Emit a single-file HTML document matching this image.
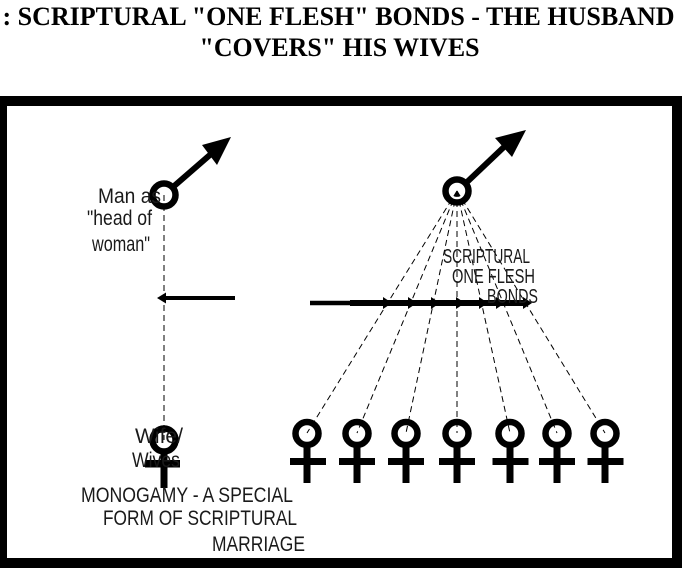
<!DOCTYPE html>
<html>
<head>
<meta charset="utf-8">
<style>
  html,body{margin:0;padding:0;background:#fff;}
  body{width:682px;height:568px;overflow:hidden;}
  svg{display:block;}
  .t{font-family:"Liberation Serif","Times New Roman",serif;font-weight:bold;font-size:26px;fill:#000;}
  .s{font-family:"Liberation Sans",Arial,sans-serif;fill:#1a1a1a;}
</style>
</head>
<body>
<svg width="682" height="568" viewBox="0 0 682 568" xmlns="http://www.w3.org/2000/svg">
  <rect x="0" y="0" width="682" height="568" fill="#fff"/>
  <!-- Title -->
  <text class="t" x="338.5" y="25" text-anchor="middle" textLength="672" lengthAdjust="spacingAndGlyphs">: SCRIPTURAL "ONE FLESH" BONDS - THE HUSBAND</text>
  <text class="t" x="339.5" y="56" text-anchor="middle" textLength="280" lengthAdjust="spacingAndGlyphs">"COVERS" HIS WIVES</text>

  <!-- Frame -->
  <rect x="0" y="96" width="682" height="472" fill="#000"/>
  <rect x="7" y="106" width="665" height="452" fill="#fff"/>

  <!-- Left dashed vertical -->
  <line x1="164" y1="195" x2="164" y2="440" stroke="#000" stroke-width="1" stroke-dasharray="6 4"/>

  <!-- Right dashed lines -->
  <g stroke="#000" stroke-width="1" stroke-dasharray="6 4" fill="none">
    <line x1="457" y1="191" x2="307" y2="433"/>
    <line x1="457" y1="191" x2="357" y2="433"/>
    <line x1="457" y1="191" x2="406" y2="433"/>
    <line x1="457" y1="191" x2="457" y2="433"/>
    <line x1="457" y1="191" x2="510" y2="433"/>
    <line x1="457" y1="191" x2="557" y2="433"/>
    <line x1="457" y1="191" x2="605" y2="433"/>
  </g>

  <!-- Left man -->
  <circle cx="164" cy="195" r="11.5" fill="none" stroke="#000" stroke-width="6.5"/>
  <line x1="173" y1="187" x2="211" y2="154" stroke="#000" stroke-width="6"/>
  <polygon points="231,137 202,145 217,165" fill="#000"/>

  <!-- Right man -->
  <circle cx="457" cy="191" r="11.5" fill="none" stroke="#000" stroke-width="6.5"/>
  <line x1="466" y1="183" x2="505" y2="146" stroke="#000" stroke-width="6"/>
  <polygon points="526,130 495,138 512,157" fill="#000"/>

  <!-- Left horizontal arrow -->
  <line x1="235" y1="298" x2="163" y2="298" stroke="#000" stroke-width="4"/>
  <polygon points="157,298 166,292.5 166,303.5" fill="#000"/>

  <!-- Right horizontal arrow line with heads -->
  <line x1="310" y1="303" x2="352" y2="303" stroke="#000" stroke-width="4.5"/>
  <line x1="350" y1="303" x2="526" y2="303" stroke="#000" stroke-width="6"/>
  <g fill="#000">
    <polygon points="392,303 383,297 383,309"/>
    <polygon points="417,303 408,297 408,309"/>
    <polygon points="440,303 431,297 431,309"/>
    <polygon points="465,303 456,297 456,309"/>
    <polygon points="488,303 479,297 479,309"/>
    <polygon points="505,303 496,297 496,309"/>
    <polygon points="532,303 523,297 523,309"/>
  </g>

  <!-- Women (right) -->
  <g fill="#000">
    <circle cx="307" cy="433.5" r="11.5" fill="none" stroke="#000" stroke-width="6.5"/>
    <rect x="303.5" y="446" width="7" height="37"/>
    <rect x="290" y="458" width="36" height="7"/>

    <circle cx="357" cy="433.5" r="11.5" fill="none" stroke="#000" stroke-width="6.5"/>
    <rect x="353.5" y="446" width="7" height="37"/>
    <rect x="339" y="458" width="36" height="7"/>

    <circle cx="406" cy="433.5" r="11.5" fill="none" stroke="#000" stroke-width="6.5"/>
    <rect x="402.5" y="446" width="7" height="37"/>
    <rect x="388" y="458" width="36" height="7"/>

    <circle cx="457" cy="433.5" r="11.5" fill="none" stroke="#000" stroke-width="6.5"/>
    <rect x="453.5" y="446" width="7" height="37"/>
    <rect x="439" y="458" width="36" height="7"/>

    <circle cx="510" cy="433.5" r="11.5" fill="none" stroke="#000" stroke-width="6.5"/>
    <rect x="506.5" y="446" width="7" height="37"/>
    <rect x="492.5" y="458" width="36" height="7"/>

    <circle cx="557" cy="433.5" r="11.5" fill="none" stroke="#000" stroke-width="6.5"/>
    <rect x="553.5" y="446" width="7" height="37"/>
    <rect x="539" y="458" width="36" height="7"/>

    <circle cx="605" cy="433.5" r="11.5" fill="none" stroke="#000" stroke-width="6.5"/>
    <rect x="601.5" y="446" width="7" height="37"/>
    <rect x="587.5" y="458" width="36" height="7"/>
  </g>

  <!-- Left woman -->
  <circle cx="164" cy="440" r="11.5" fill="none" stroke="#000" stroke-width="6.5"/>
  <rect x="160.5" y="453" width="7" height="35" fill="#000"/>
  <rect x="145" y="460" width="35" height="7.5" fill="#000"/>

  <!-- Left labels -->
  <text class="s" x="98" y="203" font-size="21" textLength="63" lengthAdjust="spacingAndGlyphs">Man as</text>
  <text class="s" x="87" y="225" font-size="21" textLength="65" lengthAdjust="spacingAndGlyphs">"head of</text>
  <text class="s" x="92" y="251" font-size="21" textLength="58" lengthAdjust="spacingAndGlyphs">woman"</text>

  <text class="s" x="135" y="443" font-size="21" textLength="48" lengthAdjust="spacingAndGlyphs">Wife/</text>
  <text class="s" x="132" y="467" font-size="21" textLength="48" lengthAdjust="spacingAndGlyphs">Wives</text>

  <text class="s" x="81" y="502" font-size="21" textLength="212" lengthAdjust="spacingAndGlyphs">MONOGAMY - A SPECIAL</text>
  <text class="s" x="103" y="525" font-size="21" textLength="194" lengthAdjust="spacingAndGlyphs">FORM OF SCRIPTURAL</text>
  <text class="s" x="212" y="551" font-size="21" textLength="93" lengthAdjust="spacingAndGlyphs">MARRIAGE</text>

  <!-- Right labels -->
  <text class="s" x="443" y="263" font-size="20" textLength="87" lengthAdjust="spacingAndGlyphs">SCRIPTURAL</text>
  <text class="s" x="452" y="283" font-size="20" textLength="83" lengthAdjust="spacingAndGlyphs">ONE FLESH</text>
  <text class="s" x="487" y="303" font-size="20" textLength="51" lengthAdjust="spacingAndGlyphs">BONDS</text>
</svg>
</body>
</html>
